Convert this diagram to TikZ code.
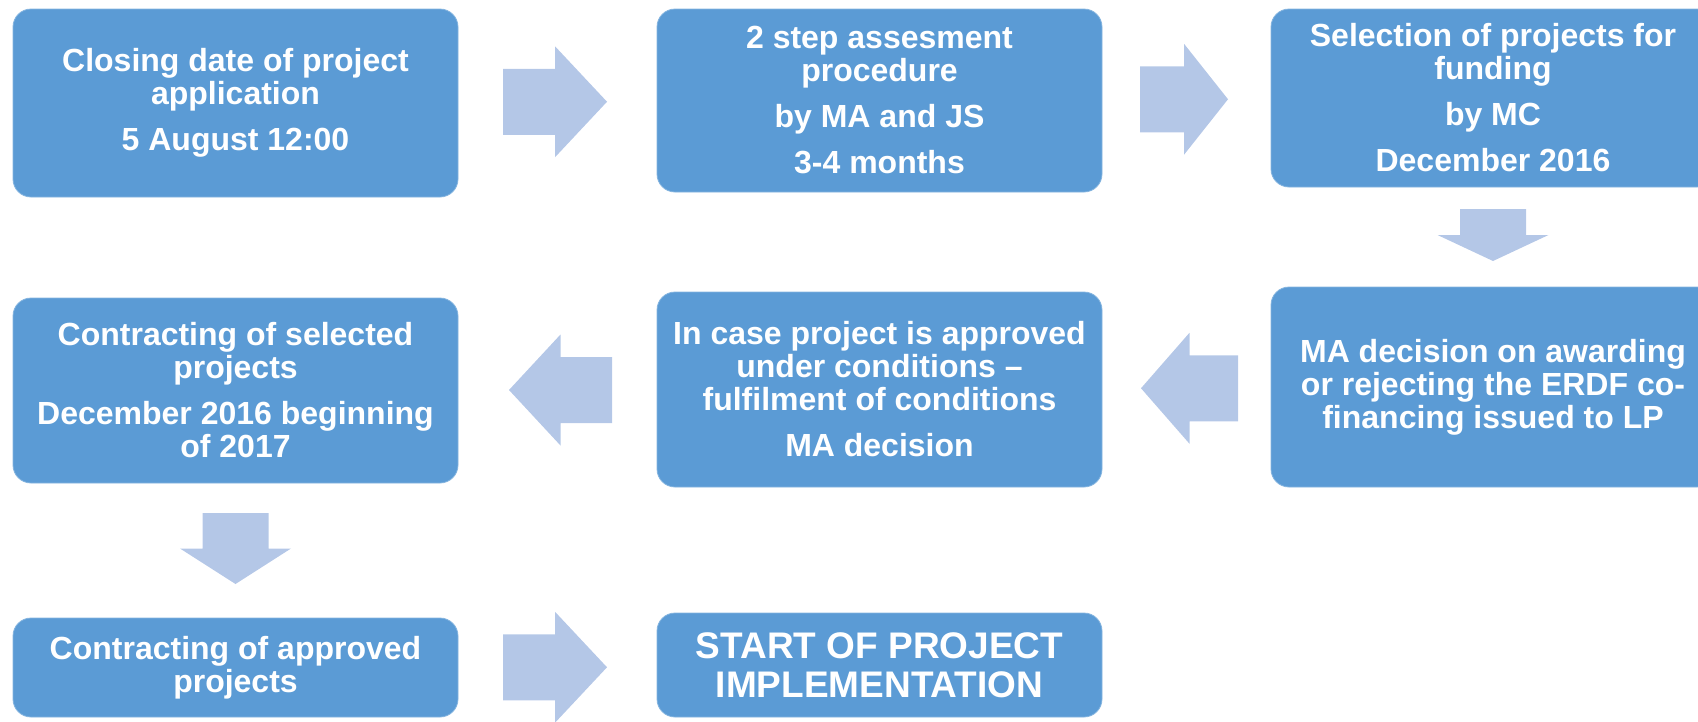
\documentclass[tikz,border=0pt]{standalone}
\usepackage{fontspec}
\setmainfont{Liberation Sans}
\usetikzlibrary{calc}
\definecolor{boxblue}{HTML}{5B9BD5}
\definecolor{arrowblue}{HTML}{B4C7E7}
\newcommand\blockarrow[3]{\fill[arrowblue, shift={(#1)}, rotate=#2] (-#3,-33) -- (0,-33) -- (0,-55.5) -- (#3,0) -- (0,55.5) -- (0,33) -- (-#3,33) -- cycle;}
\tikzset{
  stepbox/.style={rectangle, rounded corners=18pt, fill=boxblue, draw=boxblue!75!white, line width=0.8pt,
    inner sep=0pt, text=white, align=center, font=\fontsize{32}{33}\selectfont\bfseries},
  bigtext/.style={font=\fontsize{37}{39}\selectfont\bfseries}
}
\begin{document}
\begin{tikzpicture}[x=1pt,y=-1pt]
\useasboundingbox (0,0) rectangle (1698,721);
\node[stepbox, minimum width=445pt, minimum height=188pt] (b1) at (235.5,103)
  {Closing date of project\\application\\[13pt]5 August 12:00};
\node[stepbox, minimum width=445pt, minimum height=183pt] (b2) at (879.5,100.5)
  {2 step assesment\\procedure\\[13pt]by MA and JS\\[13pt]3-4 months};
\node[stepbox, minimum width=444pt, minimum height=178pt] (b3) at (1493,98)
  {Selection of projects for\\funding\\[13pt]by MC\\[13pt]December 2016};
\node[stepbox, minimum width=444pt, minimum height=200pt] (b4) at (1493,387)
  {MA decision on awarding\\or rejecting the ERDF co-\\financing issued to LP};
\node[stepbox, minimum width=445pt, minimum height=195pt] (b5) at (879.5,389.5)
  {In case project is approved\\under conditions –\\fulfilment of conditions\\[13pt]MA decision};
\node[stepbox, minimum width=445pt, minimum height=185pt] (b6) at (235.5,390.5)
  {Contracting of selected\\projects\\[13pt]December 2016 beginning\\of 2017};
\node[stepbox, minimum width=445pt, minimum height=99pt] (b7) at (235.5,667.5)
  {Contracting of approved\\projects};
\node[stepbox, bigtext, minimum width=445pt, minimum height=104pt] (b8) at (879.5,665)
  {START OF PROJECT\\IMPLEMENTATION};
\coordinate (a1) at ($(b1.east)!0.5!(b2.west)+(-2.5,0)$);
\coordinate (a2) at ($(b2.east)!0.5!(b3.west)+(-2.5,0)$);
\coordinate (a3) at ($(b3.south)!0.5!(b4.north)+(0,-2)$);
\coordinate (a4) at ($(b4.west)!0.5!(b5.east)+(3,0)$);
\coordinate (a5) at ($(b5.west)!0.5!(b6.east)+(3,0)$);
\coordinate (a6) at ($(b6.south)!0.5!(b7.north)+(0,-2)$);
\coordinate (a7) at ($(b7.east)!0.5!(b8.west)+(-2.5,1)$);
\blockarrow{a1}{0}{52}
\blockarrow{a2}{0}{44}
\blockarrow{a3}{-90}{26}
\blockarrow{a4}{180}{48.5}
\blockarrow{a5}{180}{51.5}
\blockarrow{a6}{-90}{35.5}
\blockarrow{a7}{0}{52}
\end{tikzpicture}
\end{document}
